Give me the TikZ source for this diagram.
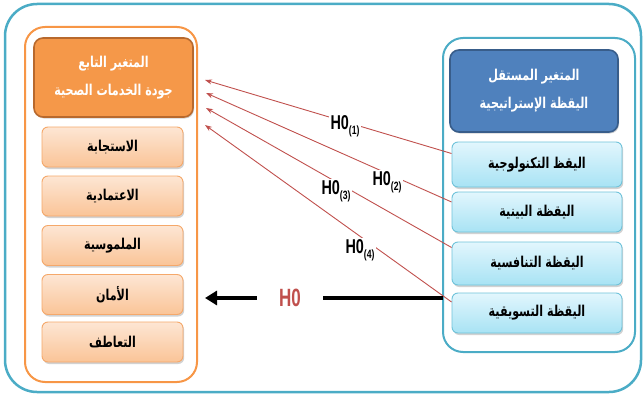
\documentclass[tikz,border=0pt]{standalone}
\usepackage{fontspec}
\setmainfont{Liberation Sans}
\newfontfamily\arabicfont[Script=Arabic]{DejaVu Sans}
\TeXXeTstate=1
\usetikzlibrary{arrows.meta,shadows}
% Arabic line, set right to left and drawn a little taller than the font
\newcommand{\artxt}[1]{\scalebox{0.97}[1.3]{\arabicfont\beginR #1\endR}}
\newcommand{\hyp}[1]{\scalebox{0.72}[1]{H0\raisebox{-0.5ex}{\fontsize{12}{12}\selectfont(#1)}}}

\definecolor{outerblue}{HTML}{4BACC6}
\definecolor{orangeframe}{HTML}{F79646}
\definecolor{orangehead}{HTML}{F59849}
\definecolor{orangeedge}{HTML}{B8692D}
\definecolor{orangetop}{HTML}{FDE6D4}
\definecolor{orangebot}{HTML}{FAC497}
\definecolor{orangeline}{HTML}{F5A86A}
\definecolor{bluehead}{HTML}{4F81BD}
\definecolor{blueedge}{HTML}{385D8A}
\definecolor{cyantop}{HTML}{E2F6FD}
\definecolor{cyanbot}{HTML}{A8E3F4}
\definecolor{cyanline}{HTML}{6FC3DA}
\definecolor{hypred}{HTML}{C0504D}

\tikzset{
  frame/.style={draw, rounded corners=20pt, line width=2pt, fill=white},
  headbox/.style={rounded corners=9pt, line width=1.6pt, text=white,
    align=center, font=\bfseries\fontsize{11.5}{28}\selectfont,
    drop shadow={shadow xshift=1pt, shadow yshift=-1.5pt, opacity=0.35}},
  itembox/.style={rounded corners=6pt, line width=0.9pt,
    font=\bfseries\fontsize{11.5}{13}\selectfont,
    drop shadow={shadow xshift=1.2pt, shadow yshift=-2pt, opacity=0.35}},
  leftitem/.style={itembox, draw=orangeline, top color=orangetop,
    bottom color=orangebot, minimum width=141pt, minimum height=40pt},
  rightitem/.style={itembox, draw=cyanline, top color=cyantop,
    bottom color=cyanbot, minimum width=170pt},
  hyparrow/.style={draw=hypred, line width=0.9pt,
    -{Stealth[length=7pt,width=5pt]}},
  hyplabel/.style={fill=white, inner sep=1.5pt,
    font=\bfseries\fontsize{20}{22}\selectfont},
}

\begin{document}
\begin{tikzpicture}[x=1pt, y=-1pt]
\useasboundingbox (0,0) rectangle (643,396);

% outer frame
\node[draw=outerblue, line width=2.5pt, rounded corners=32pt,
  minimum width=636pt, minimum height=388pt] (outer) at (323,198) {};

% dependent variable column
\node[frame, draw=orangeframe, minimum width=172pt, minimum height=355pt]
  (dep) at (111,204.5) {};
\node[headbox, draw=orangeedge, fill=orangehead, minimum width=159pt,
  minimum height=79pt] (dephead) at (113.5,77.5)
  {\artxt{المتغير التابع}\\\artxt{جودة الخدمات الصحية}};
\node[leftitem] (l1) at (112.5,147) {\artxt{الاستجابة}};
\node[leftitem] (l2) at (112.5,196) {\artxt{الاعتمادية}};
\node[leftitem] (l3) at (112.5,245.5) {\artxt{الملموسية}};
\node[leftitem] (l4) at (112.5,294.5) {\artxt{الأمان}};
\node[leftitem] (l5) at (112.5,342) {\artxt{التعاطف}};

% independent variable column
\node[frame, draw=outerblue, minimum width=192pt, minimum height=314pt]
  (indep) at (539,195) {};
\node[headbox, draw=blueedge, fill=bluehead, minimum width=168pt,
  minimum height=82pt] (indhead) at (534,91)
  {\artxt{المتغير المستقل}\\\artxt{اليقظة الإستراتيجية}};
\node[rightitem, minimum height=45pt] (r1) at (537,164.5) {\artxt{اليقظ التكنولوجية}};
\node[rightitem, minimum height=40pt] (r2) at (537,212) {\artxt{اليقظة البينية}};
\node[rightitem, minimum height=43pt] (r3) at (537,263.5) {\artxt{اليقظة التنافسية}};
\node[rightitem, minimum height=40pt] (r4) at (537,313) {\artxt{اليقظة التسويقية}};

% arrow targets on the dependent column
\coordinate (t1) at (205,80);
\coordinate (t2) at (206,93);
\coordinate (t3) at (206,108);
\coordinate (t4) at (205,125);

% sub-hypothesis arrows
\draw[hyparrow] ([yshift=11pt]r1.west) -- (t1);
\draw[hyparrow] ([yshift=10pt]r2.west) -- (t2);
\draw[hyparrow] ([yshift=16pt]r3.west) -- (t3);
\draw[hyparrow] ([yshift=11pt]r4.west) -- (t4);

\node[hyplabel] (h1) at (345,126) {\hyp{1}};
\node[hyplabel] (h2) at (387,182) {\hyp{2}};
\node[hyplabel] (h3) at (336,191) {\hyp{3}};
\node[hyplabel] (h4) at (360,250) {\hyp{4}};

% main hypothesis arrow
\coordinate (mainend) at (205,298);
\coordinate (mainstart) at (443,298);
\draw[line width=4pt, -{Triangle[length=12pt,width=14pt]}]
  (mainstart) -- (mainend);
\node[fill=white, inner xsep=22pt, text=hypred,
  font=\bfseries\fontsize{25}{27}\selectfont] (h0) at (290,298)
  {\scalebox{0.68}[1]{H0}};
\end{tikzpicture}
\end{document}
